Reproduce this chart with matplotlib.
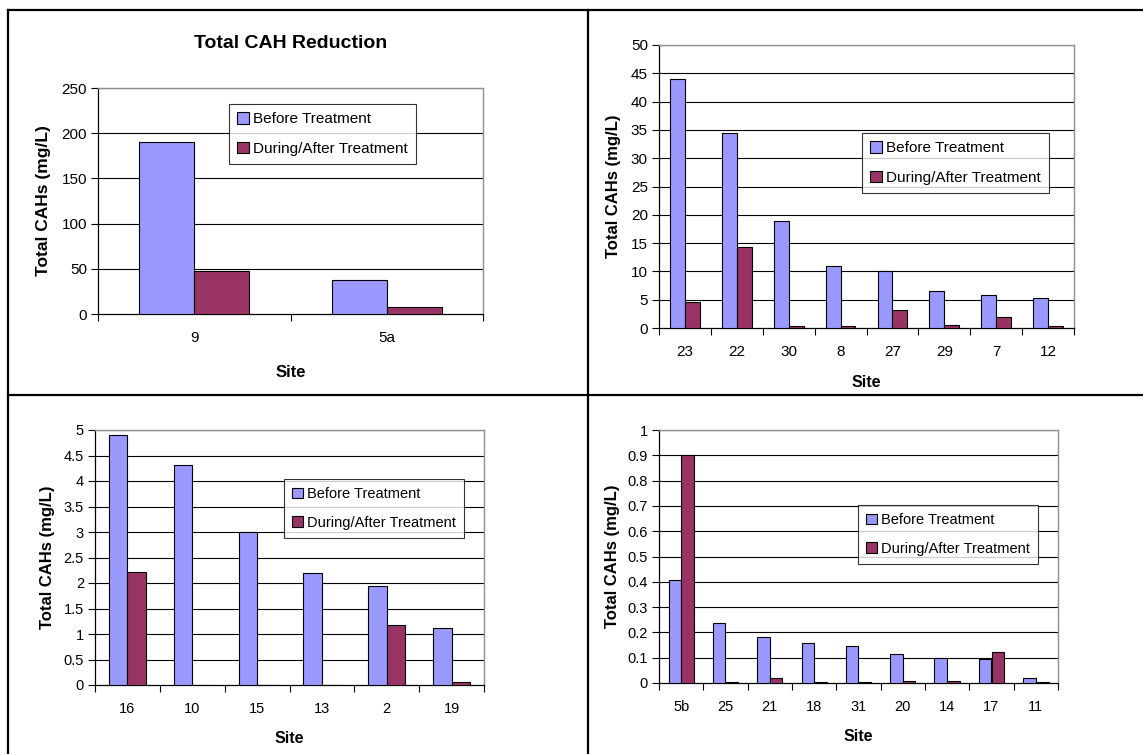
import numpy as np
import matplotlib
matplotlib.use("Agg")
import matplotlib.pyplot as plt
from matplotlib.lines import Line2D
from matplotlib.ticker import FixedLocator

plt.rcParams['font.family'] = ['Liberation Sans', 'DejaVu Sans']

BLUE = '#9999FF'
RED = '#993366'
W, H = 1143, 754

# Panel 1
sites_1 = ["9", "5a"]
before_1 = [190.6, 37.5]
after_1 = [47.9, 8.2]

# Panel 2
sites_2 = ["23", "22", "30", "8", "27", "29", "7", "12"]
before_2 = [44.0, 34.5, 18.9, 10.9, 10.0, 6.6, 5.9, 5.3]
after_2 = [4.6, 14.3, 0.3, 0.3, 3.2, 0.6, 1.9, 0.3]

# Panel 3
sites_3 = ["16", "10", "15", "13", "2", "19"]
before_3 = [4.90, 4.31, 3.00, 2.19, 1.94, 1.11]
after_3 = [2.21, 0.0, 0.0, 0.0, 1.18, 0.05]

# Panel 4
sites_4 = ["5b", "25", "21", "18", "31", "20", "14", "17", "11"]
before_4 = [0.408, 0.239, 0.180, 0.158, 0.147, 0.113, 0.097, 0.093, 0.018]
after_4 = [0.901, 0.005, 0.018, 0.005, 0.005, 0.009, 0.009, 0.122, 0.005]


def px_rect(left, top, right, bottom):
    return [left / W, 1 - bottom / H, (right - left) / W, (bottom - top) / H]


def draw_panel(fig, rect, sites, before, after, ymax, ystep, yfmt, legend_xy,
               title=None, title_y=None, fs=10.5, lab_fs=12, ylabel_x=None, xlabel_y=None):
    ax = fig.add_axes(px_rect(*rect))
    n = len(sites)
    x = np.arange(n)
    w = 1 / 3.5
    ax.bar(x - w / 2, before, w, color=BLUE, edgecolor='black', linewidth=0.8,
           label='Before Treatment', zorder=3)
    ax.bar(x + w / 2, after, w, color=RED, edgecolor='black', linewidth=0.8,
           label='During/After Treatment', zorder=3)
    ax.set_xlim(-0.5, n - 0.5)
    ax.set_ylim(0, ymax)
    yt = np.arange(0, ymax + ystep / 2, ystep)
    ax.set_yticks(yt)
    ax.set_yticklabels([yfmt(v) for v in yt], fontsize=fs)
    for v in yt[1:]:
        ax.axhline(v, color='black', linewidth=0.8, zorder=1)
    ax.set_xticks(x)
    ax.set_xticklabels(sites, fontsize=fs)
    ax.tick_params(axis='x', which='major', length=0, pad=12)
    ax.xaxis.set_minor_locator(FixedLocator(np.arange(-0.5, n, 1.0)))
    ax.tick_params(axis='x', which='minor', length=5, width=0.8, direction='out')
    ax.tick_params(axis='y', length=5, width=0.8, direction='out', pad=3)
    for s in ['top', 'right']:
        ax.spines[s].set_color('#909090')
        ax.spines[s].set_linewidth(1.0)
    for s in ['left', 'bottom']:
        ax.spines[s].set_color('black')
        ax.spines[s].set_linewidth(0.9)
    ax.set_xlabel('Site', fontsize=lab_fs - 0.5, fontweight='bold')
    ax.set_ylabel('Total CAHs (mg/L)', fontsize=lab_fs, fontweight='bold')
    if ylabel_x is not None:
        ax.yaxis.set_label_coords((ylabel_x + 8 - rect[0]) / (rect[2] - rect[0]), 0.5)
    if xlabel_y is not None:
        ax.xaxis.set_label_coords(0.5, (rect[3] - xlabel_y + 8) / (rect[3] - rect[1]))
    if title:
        fig.text((rect[0] + rect[2]) / 2 / W, 1 - title_y / H, title,
                 fontsize=14, fontweight='bold', ha='center', va='center')
    leg = ax.legend(loc='upper left', bbox_to_anchor=(legend_xy[0] / W, 1 - legend_xy[1] / H),
                    bbox_transform=fig.transFigure, fontsize=fs, frameon=True, fancybox=False,
                    borderaxespad=0, handlelength=0.75, handleheight=0.75, handletextpad=0.25,
                    borderpad=0.55, labelspacing=1.0)
    leg.get_frame().set_edgecolor('black')
    leg.get_frame().set_linewidth(0.8)
    return ax


fig = plt.figure(figsize=(W / 100, H / 100), dpi=100)

fmt_int = lambda v: f"{v:g}"

draw_panel(fig, (98, 88, 483, 314), sites_1, before_1, after_1, 250, 50, fmt_int,
           (229, 104), title='Total CAH Reduction', title_y=43, fs=11, lab_fs=12.5,
           ylabel_x=43, xlabel_y=373)
draw_panel(fig, (659, 45, 1074, 328), sites_2, before_2, after_2, 50, 5, fmt_int,
           (862, 133), fs=11, ylabel_x=613, xlabel_y=383)
draw_panel(fig, (95, 430, 484, 685), sites_3, before_3, after_3, 5, 0.5, fmt_int,
           (284, 479), fs=10.5, ylabel_x=47, xlabel_y=739)
draw_panel(fig, (659, 430, 1058, 683), sites_4, before_4, after_4, 1.0, 0.1,
           lambda v: f"{round(v, 1):g}", (858, 505), fs=10.5, ylabel_x=612, xlabel_y=737)

# panel frame lines
for xs, ys in [((8, W), (10, 10)), ((8, 8), (10, H)), ((587.5, 587.5), (10, H)),
               ((8, W), (395, 395))]:
    fig.add_artist(Line2D([x / W for x in xs], [1 - y / H for y in ys],
                          transform=fig.transFigure, color='black', linewidth=1.6))

fig.savefig('out.png', dpi=100, facecolor='white')
